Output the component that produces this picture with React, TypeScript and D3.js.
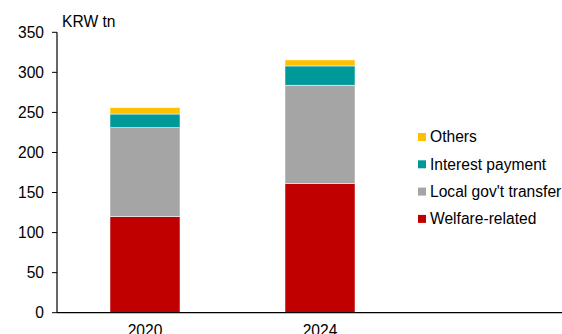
import React from "react";
import * as d3 from "d3";

const categories = ["2020", "2024"];
const seriesNames = ["Welfare-related", "Local gov't transfer", "Interest payment", "Others"];
const welfare = [120, 161];
const localTransfer = [111, 123];
const interest = [17, 24];
const others = [8, 7.5];
const yTicks = [0, 50, 100, 150, 200, 250, 300, 350];
const colors = ["#C00000", "#A5A5A5", "#009999", "#FFC000"];

export default function App() {
  const W = 562, H = 334;
  const axisX = 57;
  const y = d3.scaleLinear().domain([0, 350]).range([312.7, 32.3]);
  const x = d3.scaleBand().domain(categories).range([57.5, 407.5]).padding(0);
  const barW = x.bandwidth() * 0.4;
  const table = categories.map((c, i) => ({
    cat: c,
    "Welfare-related": welfare[i],
    "Local gov't transfer": localTransfer[i],
    "Interest payment": interest[i],
    Others: others[i],
  }));
  const stacked = d3.stack<any>().keys(seriesNames)(table);
  const font = "Arial, 'Liberation Sans', sans-serif";
  const legendOrder = [3, 2, 1, 0];
  const fs = 15.6;
  return (
    <svg width={W} height={H} style={{ position: "absolute", left: 0, top: 0 }} fontFamily={font}>
      <rect width={W} height={H} fill="#fff" />
      {stacked.map((s, si) =>
        s.map((d, i) => {
          const cx = x(categories[i])! + x.bandwidth() / 2;
          return (
            <rect key={si + "-" + i} x={cx - barW / 2} y={y(d[1])} width={barW}
              height={y(d[0]) - y(d[1])} fill={colors[si]} stroke="#fff" strokeWidth={0.5} />
          );
        })
      )}
      <line x1={axisX} x2={axisX} y1={y(350)} y2={y(0)} stroke="#000" strokeWidth={1.2} />
      <line x1={axisX} x2={W} y1={y(0)} y2={y(0)} stroke="#000" strokeWidth={1.2} />
      {yTicks.map((t) => (
        <g key={t}>
          <line x1={axisX - 5} x2={axisX} y1={y(t)} y2={y(t)} stroke="#000" strokeWidth={1} />
          <text x={44} y={y(t)} dy="0.35em" textAnchor="end" fontSize={fs} fill="#000">{t}</text>
        </g>
      ))}
      <text x={62} y={27} fontSize={fs} fill="#000">KRW tn</text>
      {categories.map((c) => (
        <text key={c} x={x(c)! + x.bandwidth() / 2} y={336} textAnchor="middle" fontSize={fs} fill="#000">{c}</text>
      ))}
      {legendOrder.map((si, k) => {
        const cy = 137 + k * 27.3;
        return (
          <g key={si}>
            <rect x={418} y={cy - 4} width={8} height={8} fill={colors[si]} />
            <text x={430} y={cy} dy="0.35em" fontSize={fs} fill="#000">{seriesNames[si]}</text>
          </g>
        );
      })}
    </svg>
  );
}
